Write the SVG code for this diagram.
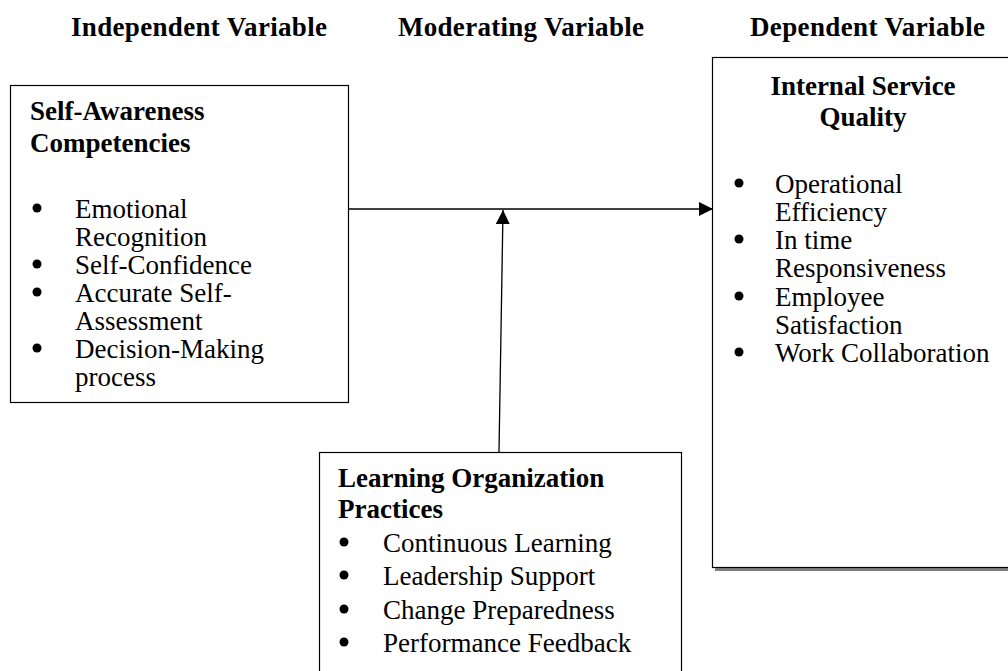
<svg xmlns="http://www.w3.org/2000/svg" width="1008" height="671" viewBox="0 0 1008 671">
  <style>
    text { font-family: "Liberation Serif", "Times New Roman", serif; fill: #000; }
    .hdr { font-size: 27px; font-weight: bold; }
    .ttl { font-size: 27px; font-weight: bold; }
    .itm { font-size: 27px; }
    .dot { fill: #000; }
    .box { fill: #fff; stroke: #000; stroke-width: 1.2; }
    .shadow { fill: #808080; }
    .conn { stroke: #000; stroke-width: 1.3; fill: none; }
  </style>
  <defs>
    <marker id="arrow" viewBox="0 0 14 14" refX="14" refY="7" markerWidth="14" markerHeight="14" markerUnits="userSpaceOnUse" orient="auto">
      <path d="M0,0 L14,7 L0,14 Z" fill="#000"/>
    </marker>
  </defs>
  <rect width="1008" height="671" fill="#fff"/>

  <!-- column headings -->
  <g id="headings">
    <text class="hdr" x="71" y="36" textLength="256">Independent Variable</text>
    <text class="hdr" x="398" y="36" textLength="246">Moderating Variable</text>
    <text class="hdr" x="750" y="36" textLength="235">Dependent Variable</text>
  </g>

  <!-- independent variable -->
  <g id="self-awareness">
    <rect class="box" x="10.5" y="85.5" width="338" height="317"/>
    <text class="ttl" x="30" y="120">Self-Awareness</text>
    <text class="ttl" x="30" y="152">Competencies</text>
    <circle class="dot" cx="37" cy="208" r="4.5"/>
    <text class="itm" x="75" y="218">Emotional</text>
    <text class="itm" x="75" y="246">Recognition</text>
    <circle class="dot" cx="37" cy="264" r="4.5"/>
    <text class="itm" x="75" y="274">Self-Confidence</text>
    <circle class="dot" cx="37" cy="292" r="4.5"/>
    <text class="itm" x="75" y="302">Accurate Self-</text>
    <text class="itm" x="75" y="330">Assessment</text>
    <circle class="dot" cx="37" cy="348" r="4.5"/>
    <text class="itm" x="75" y="358">Decision-Making</text>
    <text class="itm" x="75" y="386">process</text>
  </g>

  <!-- dependent variable -->
  <g id="internal-service-quality">
    <rect class="shadow" x="715" y="60" width="300" height="511"/>
    <rect class="box" x="712.5" y="57.5" width="300" height="510"/>
    <text class="ttl" x="863" y="95" text-anchor="middle">Internal Service</text>
    <text class="ttl" x="863" y="126" text-anchor="middle">Quality</text>
    <circle class="dot" cx="739" cy="183" r="4.5"/>
    <text class="itm" x="775" y="193">Operational</text>
    <text class="itm" x="775" y="221">Efficiency</text>
    <circle class="dot" cx="739" cy="239" r="4.5"/>
    <text class="itm" x="775" y="249">In time</text>
    <text class="itm" x="775" y="277">Responsiveness</text>
    <circle class="dot" cx="739" cy="296" r="4.5"/>
    <text class="itm" x="775" y="306">Employee</text>
    <text class="itm" x="775" y="334">Satisfaction</text>
    <circle class="dot" cx="739" cy="352" r="4.5"/>
    <text class="itm" x="775" y="362">Work Collaboration</text>
  </g>

  <!-- moderating variable -->
  <g id="learning-organization">
    <rect class="box" x="319.5" y="452.5" width="362" height="240"/>
    <text class="ttl" x="338" y="487">Learning Organization</text>
    <text class="ttl" x="338" y="518">Practices</text>
    <circle class="dot" cx="344" cy="542" r="4.5"/>
    <text class="itm" x="383" y="552">Continuous Learning</text>
    <circle class="dot" cx="344" cy="575" r="4.5"/>
    <text class="itm" x="383" y="585">Leadership Support</text>
    <circle class="dot" cx="344" cy="609" r="4.5"/>
    <text class="itm" x="383" y="619">Change Preparedness</text>
    <circle class="dot" cx="344" cy="642" r="4.5"/>
    <text class="itm" x="383" y="652">Performance Feedback</text>
  </g>

  <!-- connectors -->
  <g id="connectors">
    <line class="conn" x1="348" y1="209" x2="713" y2="209" marker-end="url(#arrow)"/>
    <line class="conn" x1="499" y1="452" x2="503" y2="210" marker-end="url(#arrow)"/>
  </g>
</svg>
